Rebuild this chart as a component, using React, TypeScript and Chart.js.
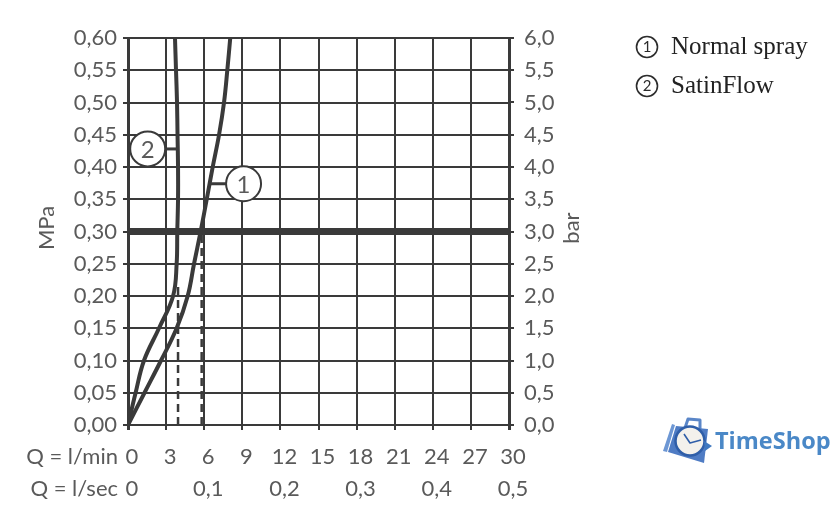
import { useEffect, useRef } from "react";
import { Chart, registerables } from "chart.js";

Chart.register(...registerables);

const pressureMpa = [0, 0.05, 0.1, 0.15, 0.2, 0.25, 0.3, 0.35, 0.4, 0.45, 0.5, 0.55, 0.6];
const normalSprayFlow = [0, 1.3, 2.6, 3.83, 4.7, 5.2, 5.72, 6.2, 6.67, 7.17, 7.56, 7.82, 8.05];
const satinFlowFlow = [0, 0.6, 1.26, 2.44, 3.55, 3.83, 3.88, 3.94, 3.94, 3.9, 3.86, 3.78, 3.7];

const mpaLabels = ["0,00", "0,05", "0,10", "0,15", "0,20", "0,25", "0,30", "0,35", "0,40", "0,45", "0,50", "0,55", "0,60"];
const barLabels = ["0,0", "0,5", "1,0", "1,5", "2,0", "2,5", "3,0", "3,5", "4,0", "4,5", "5,0", "5,5", "6,0"];
const lpmLabels = ["0", "3", "6", "9", "12", "15", "18", "21", "24", "27", "30"];
const lpsLabels = ["0", "0,1", "0,2", "0,3", "0,4", "0,5"];

const referencePressure = 0.3;
const referenceFlowRange = [0, 30];
const dashNormal = [{ x: 5.8, y: 0 }, { x: 5.8, y: 0.3 }];
const dashSatin = [{ x: 3.94, y: 0 }, { x: 3.94, y: 0.22 }];
const leaderNormal = [{ x: 6.5, y: 0.374 }, { x: 9.1, y: 0.374 }];
const leaderSatin = [{ x: 3.9, y: 0.428 }, { x: 1.55, y: 0.428 }];
const calloutPoints = [{ x: 9.1, y: 0.374, label: "1" }, { x: 1.55, y: 0.428, label: "2" }];
const legendItems = ["Normal spray", "SatinFlow"];
const legendMarks = ["1", "2"];

const INK = "#3a3a3a";
const TEXT = "#5a5a5a";
const AXIS_FONT = "Lato";

const overlay = {
  id: "overlay",
  afterDraw(chart: any) {
    const c = chart.ctx as CanvasRenderingContext2D;
    const { x, y } = chart.scales;
    c.save();
    // callout numerals
    c.fillStyle = TEXT;
    c.textAlign = "center";
    c.textBaseline = "middle";
    c.font = `24px ${AXIS_FONT}`;
    calloutPoints.forEach((p) => c.fillText(p.label, x.getPixelForValue(p.x), y.getPixelForValue(p.y) + 1));

    // axis captions
    c.font = `22px ${AXIS_FONT}`;
    c.textAlign = "right";
    c.fillText("Q = l/min", 118, 457);
    c.fillText("Q = l/sec", 118, 489);
    const rotated = (t: string, px: number, py: number) => {
      c.save();
      c.translate(px, py);
      c.rotate(-Math.PI / 2);
      c.textAlign = "center";
      c.fillText(t, 0, 0);
      c.restore();
    };
    rotated("MPa", 47, 228);
    rotated("bar", 572, 228);

    // legend
    c.textBaseline = "alphabetic";
    legendItems.forEach((t, i) => {
      const by = 54 + i * 39;
      c.beginPath();
      c.arc(647, by - 7, 10.5, 0, Math.PI * 2);
      c.lineWidth = 1.6;
      c.strokeStyle = "#2c2c2c";
      c.stroke();
      c.fillStyle = "#2c2c2c";
      c.font = "15px 'Lato'";
      c.textAlign = "center";
      c.fillText(legendMarks[i], 647, by - 2);
      c.textAlign = "left";
      c.font = "25px 'Liberation Serif'";
      c.fillStyle = "#222222";
      c.fillText(t, 671, by);
    });

    // logo
    const poly = (pts: number[][], fill: string) => {
      c.beginPath();
      pts.forEach((p, i) => (i ? c.lineTo(p[0], p[1]) : c.moveTo(p[0], p[1])));
      c.closePath();
      c.fillStyle = fill;
      c.fill();
    };
    c.lineJoin = "round";
    c.beginPath();
    c.moveTo(685, 428);
    c.lineTo(688, 419);
    c.lineTo(700, 420);
    c.lineTo(700, 430);
    c.lineWidth = 3;
    c.strokeStyle = "#5a86c8";
    c.stroke();
    poly([[676, 426], [708, 429], [704, 463], [668, 452]], "#4f7cc4");
    poly([[672, 424], [675, 425], [667, 452], [663, 451]], "#6d97d4");
    c.beginPath();
    c.arc(690, 441, 14.5, 0, Math.PI * 2);
    c.fillStyle = "#f3f1ec";
    c.fill();
    c.lineWidth = 2.5;
    c.strokeStyle = "#2f5ea8";
    c.stroke();
    c.beginPath();
    c.moveTo(684, 434);
    c.lineTo(690, 443);
    c.lineTo(701, 440);
    c.lineWidth = 1.6;
    c.strokeStyle = "#2f5ea8";
    c.stroke();
    poly([[704, 441], [712, 446], [705, 451]], "#3f78c0");
    c.font = "bold 23.5px 'Open Sans'";
    c.fillStyle = "#4a88c7";
    c.textBaseline = "middle";
    c.textAlign = "left";
    c.fillText("TimeShop", 715, 442);
    c.restore();
  },
};

const tickFont = { family: AXIS_FONT, size: 22 };

export default function App() {
  const ref = useRef<HTMLCanvasElement>(null);
  useEffect(() => {
    const line = (data: any[], extra: any) => ({
      type: "scatter",
      data,
      showLine: true,
      pointRadius: 0,
      borderColor: INK,
      xAxisID: "x",
      yAxisID: "y",
      ...extra,
    });
    const chart = new Chart(ref.current!, {
      type: "scatter",
      data: {
        datasets: [
          line(calloutPoints, {
            label: "Callouts",
            showLine: false,
            pointRadius: 17.5,
            pointBackgroundColor: "#ffffff",
            pointBorderColor: "#3a3a3a",
            pointBorderWidth: 2,
            clip: false,
            order: 0,
          }),
          line(leaderNormal, { label: "Leader 1", borderWidth: 3, order: 1 }),
          line(leaderSatin, { label: "Leader 2", borderWidth: 3, order: 1 }),
          line(normalSprayFlow.map((q, i) => ({ x: q, y: pressureMpa[i] })), {
            label: legendItems[0],
            borderWidth: 4,
            tension: 0.4,
            order: 2,
          }),
          line(satinFlowFlow.map((q, i) => ({ x: q, y: pressureMpa[i] })), {
            label: legendItems[1],
            borderWidth: 4,
            tension: 0.4,
            order: 2,
          }),
          line(referenceFlowRange.map((q) => ({ x: q, y: referencePressure })), {
            label: "3 bar",
            borderWidth: 7,
            order: 3,
          }),
          line(dashNormal, { label: "Q1", borderWidth: 2.5, borderDash: [8, 5], order: 4 }),
          line(dashSatin, { label: "Q2", borderWidth: 2.5, borderDash: [8, 5], order: 4 }),
        ] as any,
      },
      options: {
        responsive: false,
        animation: false,
        layout: { padding: { left: 38, top: 38, right: 200, bottom: 26 } },
        plugins: { legend: { display: false }, tooltip: { enabled: false } },
        scales: {
          x: {
            type: "linear",
            position: "bottom",
            weight: 1,
            min: 0,
            max: 30,
            afterFit: (s: any) => { s.height = 46; },
            grid: {
              color: INK,
              lineWidth: (c: any) => (c.index === 0 || c.index === lpmLabels.length - 1 ? 3 : 2),
              tickLength: 5,
            },
            border: { color: INK, width: 2 },
            ticks: {
              stepSize: 3,
              autoSkip: false,
              maxRotation: 0,
              padding: 14,
              labelOffset: 4,
              color: TEXT,
              font: tickFont,
              callback: (_v: any, i: number) => lpmLabels[i],
            },
          },
          xSec: {
            type: "linear",
            position: "bottom",
            weight: 2,
            min: 0,
            max: 0.5,
            afterFit: (s: any) => { s.height = 34; },
            grid: { display: false, drawTicks: false },
            border: { display: false },
            ticks: {
              stepSize: 0.1,
              autoSkip: false,
              maxRotation: 0,
              padding: 5,
              labelOffset: 4,
              color: TEXT,
              font: tickFont,
              callback: (_v: any, i: number) => lpsLabels[i],
            },
          },
          y: {
            type: "linear",
            position: "left",
            min: 0,
            max: 0.6,
            afterFit: (s: any) => { s.width = 90; },
            grid: { color: INK, lineWidth: 2, tickLength: 5 },
            border: { color: INK, width: 2 },
            ticks: {
              stepSize: 0.05,
              autoSkip: false,
              padding: 6,
              color: TEXT,
              font: tickFont,
              callback: (_v: any, i: number) => mpaLabels[i],
            },
          },
          yBar: {
            type: "linear",
            position: "right",
            min: 0,
            max: 6,
            afterFit: (s: any) => { s.width = 131; },
            grid: { color: INK, lineWidth: 2, tickLength: 5, drawOnChartArea: false },
            border: { color: INK, width: 3 },
            ticks: {
              stepSize: 0.5,
              autoSkip: false,
              padding: 10,
              color: TEXT,
              font: tickFont,
              callback: (_v: any, i: number) => barLabels[i],
            },
          },
        },
      } as any,
      plugins: [overlay],
    });
    return () => chart.destroy();
  }, []);
  return (
    <div style={{ position: "absolute", left: 0, top: 0, width: 840, height: 531, background: "#ffffff" }}>
      <canvas ref={ref} width={840} height={531} style={{ display: "block" }} />
    </div>
  );
}
